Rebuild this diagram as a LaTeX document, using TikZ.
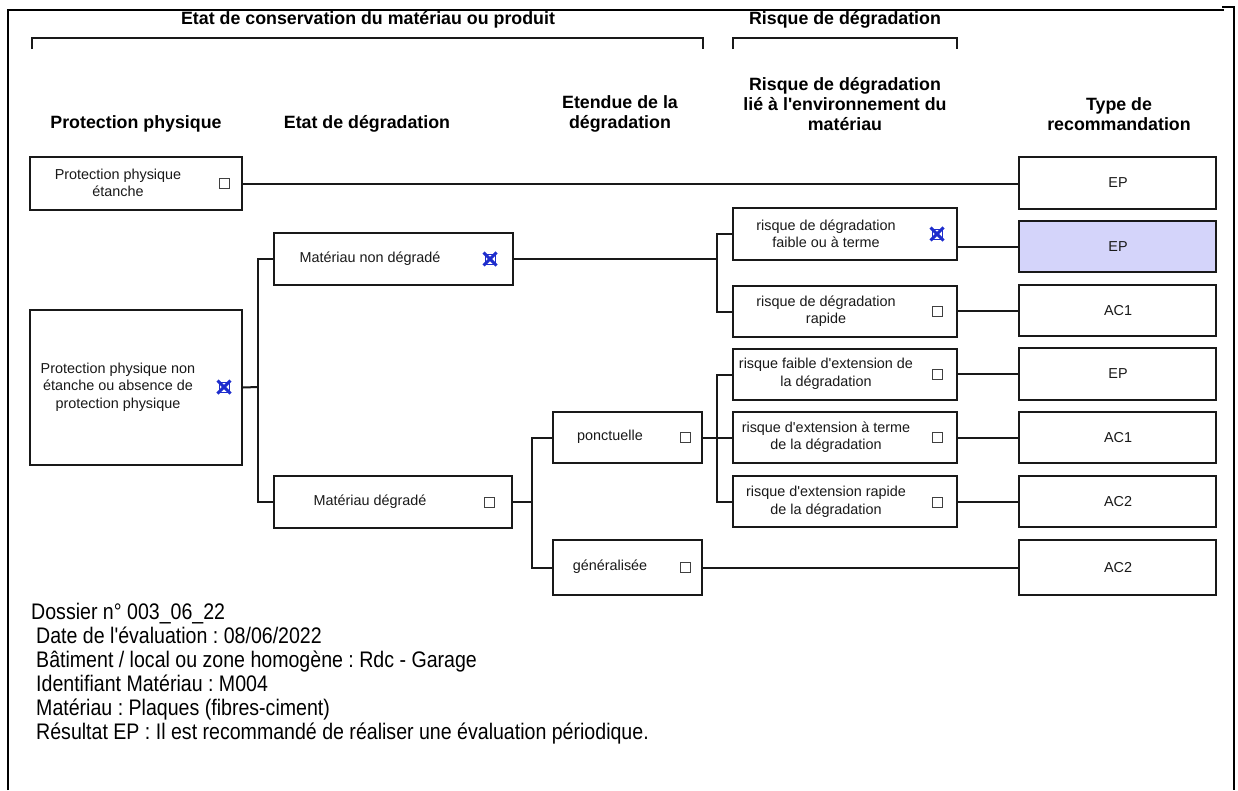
\documentclass[tikz,border=0pt]{standalone}
\usepackage{fontspec}
\setmainfont{Liberation Sans}
\newfontfamily\plainfont{Liberation Sans}
\newfontfamily\narrowfont[FakeStretch=0.87]{Liberation Sans}
\usetikzlibrary{fit}
\definecolor{lav}{RGB}{212,212,250}
\definecolor{xblue}{RGB}{30,45,205}
\definecolor{ln}{RGB}{25,25,25}
\frenchspacing
\begin{document}
\begin{tikzpicture}[x=1pt,y=-1pt,
  box/.style={draw=ln, line width=2pt, rectangle, inner sep=0pt},
  btxt/.style={font=\plainfont\fontsize{14.4}{17.5}\selectfont, align=center, inner sep=0pt, text=black!90},
  hdr/.style={font=\plainfont\bfseries\fontsize{17.8}{20}\selectfont, align=center, inner sep=0pt},
  cbx/.style={draw=black!75, line width=1pt, minimum size=10pt, inner sep=0pt},
  cbxon/.style={draw=xblue, line width=1pt, minimum size=10pt, inner sep=0pt},
  xmark/.style={draw=xblue, line width=3pt},
  conn/.style={draw=ln, line width=2pt},
  frm/.style={draw=black, line width=2pt},
  foot/.style={font=\narrowfont\fontsize{22.5}{24}\selectfont, anchor=base west, inner sep=0pt}
]
\useasboundingbox (0,0) rectangle (1238,790);
\fill[white] (0,0) rectangle (1238,790);

% frame
\draw[frm] (8,790) -- (8,10) -- (1224,10);
\draw[frm] (1222,7) -- (1234,7) -- (1234,790);

% top headings and brackets
\node[hdr] (h0) at (368,20) {Etat de conservation du matériau ou produit};
\node[hdr] (h0b) at (845,20) {Risque de dégradation};
\draw[conn] (32,49) -- (32,38) -- (703,38) -- (703,49);
\draw[conn] (733,49) -- (733,38) -- (957,38) -- (957,49);

% column headers
\node[hdr] (hc1) at (136,124) {Protection physique};
\node[hdr] (hc2) at (367,124) {Etat de dégradation};
\node[hdr] (hc3) at (620,114) {Etendue de la\\dégradation};
\node[hdr] (hc4) at (845,104) {Risque de dégradation\\lié à l'environnement du\\matériau};
\node[hdr] (hc5) at (1119,114) {Type de\\recommandation};

% boxes
\node[box, fit={(30,157) (242,210)}] (pe) {};
\node[box, fit={(30,310) (242,465)}] (pne) {};
\node[box, fit={(274,233) (513,285)}] (mnd) {};
\node[box, fit={(274,476) (512,528)}] (md) {};
\node[box, fit={(553,412) (702,463)}] (pon) {};
\node[box, fit={(553,540) (702,595)}] (gen) {};
\node[box, fit={(733,208) (957,260)}] (r1) {};
\node[box, fit={(733,286) (957,337)}] (r2) {};
\node[box, fit={(733,349) (957,400)}] (r3) {};
\node[box, fit={(733,412) (957,463)}] (r4) {};
\node[box, fit={(733,476) (957,527)}] (r5) {};
\node[box, fit={(1019,157) (1216,209)}] (t1) {};
\node[box, fill=lav, fit={(1019,221) (1216,272)}] (t2) {};
\node[box, fit={(1019,285) (1216,336)}] (t3) {};
\node[box, fit={(1019,348) (1216,400)}] (t4) {};
\node[box, fit={(1019,412) (1216,463)}] (t5) {};
\node[box, fit={(1019,476) (1216,527)}] (t6) {};
\node[box, fit={(1019,540) (1216,595)}] (t7) {};

% box texts
\node[btxt] (lpe) at (118,183) {Protection physique\\étanche};
\node[btxt] (lpne) at (118,387) {Protection physique non\\étanche ou absence de\\protection physique};
\node[btxt] (lmnd) at (370,259) {Matériau non dégradé};
\node[btxt] (lmd) at (370,502) {Matériau dégradé};
\node[btxt] (lpon) at (610,437) {ponctuelle};
\node[btxt] (lgen) at (610,567) {généralisée};
\node[btxt] (lr1) at (826,234) {risque de dégradation\\faible ou à terme};
\node[btxt] (lr2) at (826,311) {risque de dégradation\\rapide};
\node[btxt] (lr3) at (826,374) {risque faible d'extension de\\la dégradation};
\node[btxt] (lr4) at (826,437) {risque d'extension à terme\\de la dégradation};
\node[btxt] (lr5) at (826,502) {risque d'extension rapide\\de la dégradation};
\node[btxt] (lt1) at (1118,183) {EP};
\node[btxt] (lt2) at (1118,247) {EP};
\node[btxt] (lt3) at (1118,311) {AC1};
\node[btxt] (lt4) at (1118,374) {EP};
\node[btxt] (lt5) at (1118,438) {AC1};
\node[btxt] (lt6) at (1118,502) {AC2};
\node[btxt] (lt7) at (1118,568) {AC2};

% checkboxes
\node[cbx] (cpe) at (224,183) {};
\node[cbxon] (cpne) at (224,387) {};
\node[cbxon] (cmnd) at (490,259) {};
\node[cbx] (cmd) at (489,502) {};
\node[cbx] (cpon) at (685,437) {};
\node[cbx] (cgen) at (685,567) {};
\node[cbxon] (cr1) at (937,234) {};
\node[cbx] (cr2) at (937,311) {};
\node[cbx] (cr3) at (937,374) {};
\node[cbx] (cr4) at (937,437) {};
\node[cbx] (cr5) at (937,502) {};
\foreach \c in {cpne,cmnd,cr1}{
  \draw[xmark] ([shift={(-1,-1)}]\c.north west) -- ([shift={(1,1)}]\c.south east)
               ([shift={(1,-1)}]\c.north east) -- ([shift={(-1,1)}]\c.south west);
}

% connectors
\coordinate (bus1) at (258,387);
\coordinate (bus2) at (717,259);
\coordinate (bus3) at (532,502);
\coordinate (bus4) at (717,437.5);
\draw[conn] (pe.east) -- (pe.east -| t1.west);
\draw[conn] (pne.east) -- (bus1);
\draw[conn] (mnd.west) -| (bus1);
\draw[conn] (md.west) -| (bus1);
\draw[conn] (mnd.east) -- (bus2);
\draw[conn] (r1.west) -| (bus2);
\draw[conn] (r2.west) -| (bus2);
\draw[conn] (md.east) -- (bus3);
\draw[conn] (pon.west) -| (bus3);
\draw[conn] (gen.west) -| (bus3);
\draw[conn] (pon.east) -- (bus4);
\draw[conn] (r3.west) -| (bus4);
\draw[conn] (r4.west) -| (bus4);
\draw[conn] (r5.west) -| (bus4);
\draw[conn] (t2.west -| r1.east) -- (t2.west);
\draw[conn] (t3.west -| r2.east) -- (t3.west);
\draw[conn] (t4.west -| r3.east) -- (t4.west);
\draw[conn] (t5.west -| r4.east) -- (t5.west);
\draw[conn] (t6.west -| r5.east) -- (t6.west);
\draw[conn] (gen.east) -- (gen.east -| t7.west);

% footer text
\node[foot] (f1) at (31,619) {Dossier n° 003\_06\_22};
\node[foot] (f2) at (36,643) {Date de l'évaluation : 08/06/2022};
\node[foot] (f3) at (36,667) {Bâtiment / local ou zone homogène : Rdc - Garage};
\node[foot] (f4) at (36,691) {Identifiant Matériau : M004};
\node[foot] (f5) at (36,715) {Matériau : Plaques (fibres-ciment)};
\node[foot] (f6) at (36,739) {Résultat EP : Il est recommandé de réaliser une évaluation périodique.};
\end{tikzpicture}
\end{document}
